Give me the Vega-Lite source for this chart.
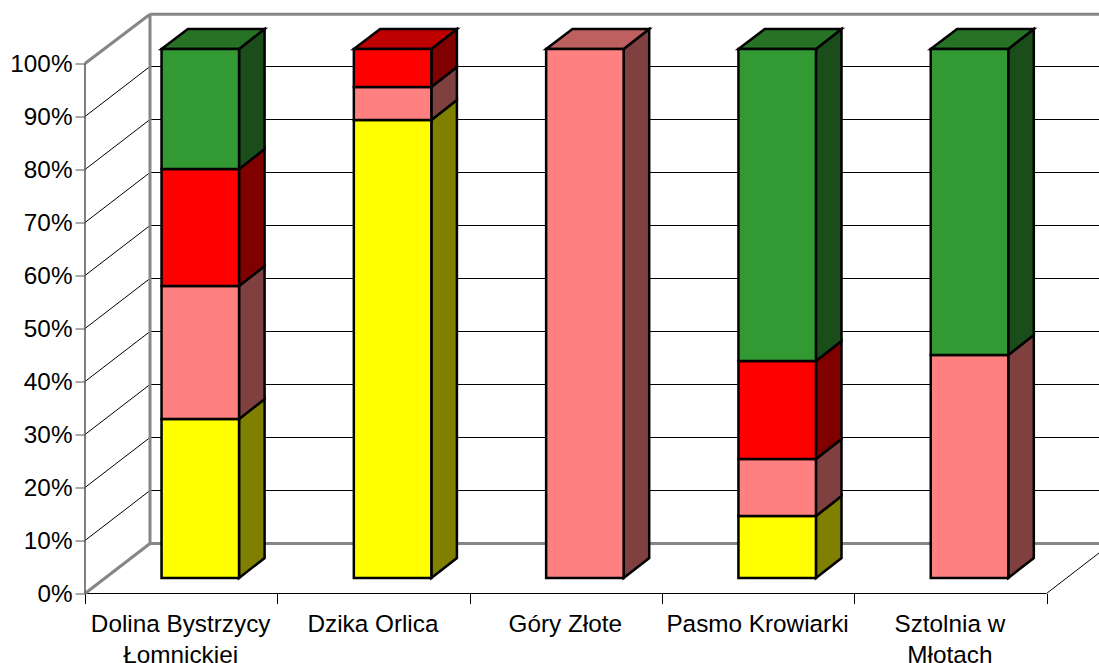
{
"$schema":"https://vega.github.io/schema/vega-lite/v6.json",
"width":1014,"height":580,
"autosize":"none",
"padding":{"left":85,"top":13.5,"right":0,"bottom":69.5},
"background":"white",
"config":{"view":{"stroke":null},"font":"Liberation Sans"},
"datasets":{
"wallGray":[
{"x":0,"y":100,"x2":0.338,"y2":109.3},
{"x":0.338,"y":109.3,"x2":5.273,"y2":109.3},
{"x":0.338,"y":9.43,"x2":0.338,"y2":109.3},
{"x":0.338,"y":9.43,"x2":5.273,"y2":9.43},
{"x":0,"y":0,"x2":0.338,"y2":9.43}],
"wallBlack":[
{"x":0,"y":0,"x2":5,"y2":0},
{"x":5,"y":0,"x2":5.273,"y2":7.64},
{"x":0,"y":10,"x2":0.338,"y2":19.43},{"x":0.338,"y":19.43,"x2":5.273,"y2":19.43},
{"x":0,"y":20,"x2":0.338,"y2":29.43},{"x":0.338,"y":29.43,"x2":5.273,"y2":29.43},
{"x":0,"y":30,"x2":0.338,"y2":39.43},{"x":0.338,"y":39.43,"x2":5.273,"y2":39.43},
{"x":0,"y":40,"x2":0.338,"y2":49.43},{"x":0.338,"y":49.43,"x2":5.273,"y2":49.43},
{"x":0,"y":50,"x2":0.338,"y2":59.43},{"x":0.338,"y":59.43,"x2":5.273,"y2":59.43},
{"x":0,"y":60,"x2":0.338,"y2":69.43},{"x":0.338,"y":69.43,"x2":5.273,"y2":69.43},
{"x":0,"y":70,"x2":0.338,"y2":79.43},{"x":0.338,"y":79.43,"x2":5.273,"y2":79.43},
{"x":0,"y":80,"x2":0.338,"y2":89.43},{"x":0.338,"y":89.43,"x2":5.273,"y2":89.43},
{"x":0,"y":90,"x2":0.338,"y2":99.43},{"x":0.338,"y":99.43,"x2":5.273,"y2":99.43}],
"front":[
{"c":"Dolina","s":"yellow","x":0.398,"x2":0.801,"y":2.92,"y2":32.92},
{"c":"Dolina","s":"pink","x":0.398,"x2":0.801,"y":32.92,"y2":58.02},
{"c":"Dolina","s":"red","x":0.398,"x2":0.801,"y":58.02,"y2":80.09},
{"c":"Dolina","s":"green","x":0.398,"x2":0.801,"y":80.09,"y2":102.74},
{"c":"Dzika","s":"yellow","x":1.398,"x2":1.801,"y":2.92,"y2":89.34},
{"c":"Dzika","s":"pink","x":1.398,"x2":1.801,"y":89.34,"y2":95.57},
{"c":"Dzika","s":"red","x":1.398,"x2":1.801,"y":95.57,"y2":102.74},
{"c":"Gory","s":"pink","x":2.398,"x2":2.801,"y":2.92,"y2":102.74},
{"c":"Pasmo","s":"yellow","x":3.398,"x2":3.801,"y":2.92,"y2":14.62},
{"c":"Pasmo","s":"pink","x":3.398,"x2":3.801,"y":14.62,"y2":25.38},
{"c":"Pasmo","s":"red","x":3.398,"x2":3.801,"y":25.38,"y2":43.87},
{"c":"Pasmo","s":"green","x":3.398,"x2":3.801,"y":43.87,"y2":102.74},
{"c":"Sztolnia","s":"pink","x":4.398,"x2":4.801,"y":2.92,"y2":45.0},
{"c":"Sztolnia","s":"green","x":4.398,"x2":4.801,"y":45.0,"y2":102.74}],
"side":[
{"c":"Dolina","s":"yellow","x":0.801,"y":2.92,"y2":32.92},{"c":"Dolina","s":"yellow","x":0.934,"y":6.69,"y2":36.69},
{"c":"Dolina","s":"pink","x":0.801,"y":32.92,"y2":58.02},{"c":"Dolina","s":"pink","x":0.934,"y":36.69,"y2":61.79},
{"c":"Dolina","s":"red","x":0.801,"y":58.02,"y2":80.09},{"c":"Dolina","s":"red","x":0.934,"y":61.79,"y2":83.86},
{"c":"Dolina","s":"green","x":0.801,"y":80.09,"y2":102.74},{"c":"Dolina","s":"green","x":0.934,"y":83.86,"y2":106.51},
{"c":"Dzika","s":"yellow","x":1.801,"y":2.92,"y2":89.34},{"c":"Dzika","s":"yellow","x":1.934,"y":6.69,"y2":93.11},
{"c":"Dzika","s":"pink","x":1.801,"y":89.34,"y2":95.57},{"c":"Dzika","s":"pink","x":1.934,"y":93.11,"y2":99.34},
{"c":"Dzika","s":"red","x":1.801,"y":95.57,"y2":102.74},{"c":"Dzika","s":"red","x":1.934,"y":99.34,"y2":106.51},
{"c":"Gory","s":"pink","x":2.801,"y":2.92,"y2":102.74},{"c":"Gory","s":"pink","x":2.934,"y":6.69,"y2":106.51},
{"c":"Pasmo","s":"yellow","x":3.801,"y":2.92,"y2":14.62},{"c":"Pasmo","s":"yellow","x":3.934,"y":6.69,"y2":18.39},
{"c":"Pasmo","s":"pink","x":3.801,"y":14.62,"y2":25.38},{"c":"Pasmo","s":"pink","x":3.934,"y":18.39,"y2":29.15},
{"c":"Pasmo","s":"red","x":3.801,"y":25.38,"y2":43.87},{"c":"Pasmo","s":"red","x":3.934,"y":29.15,"y2":47.64},
{"c":"Pasmo","s":"green","x":3.801,"y":43.87,"y2":102.74},{"c":"Pasmo","s":"green","x":3.934,"y":47.64,"y2":106.51},
{"c":"Sztolnia","s":"pink","x":4.801,"y":2.92,"y2":45.0},{"c":"Sztolnia","s":"pink","x":4.934,"y":6.69,"y2":48.77},
{"c":"Sztolnia","s":"green","x":4.801,"y":45.0,"y2":102.74},{"c":"Sztolnia","s":"green","x":4.934,"y":48.77,"y2":106.51}],
"top":[
{"c":"Dolina","s":"green","y":102.74,"x":0.398,"x2":0.801},{"c":"Dolina","s":"green","y":106.51,"x":0.535,"x2":0.934},
{"c":"Dzika","s":"red","y":102.74,"x":1.398,"x2":1.801},{"c":"Dzika","s":"red","y":106.51,"x":1.535,"x2":1.934},
{"c":"Gory","s":"pink","y":102.74,"x":2.398,"x2":2.801},{"c":"Gory","s":"pink","y":106.51,"x":2.535,"x2":2.934},
{"c":"Pasmo","s":"green","y":102.74,"x":3.398,"x2":3.801},{"c":"Pasmo","s":"green","y":106.51,"x":3.535,"x2":3.934},
{"c":"Sztolnia","s":"green","y":102.74,"x":4.398,"x2":4.801},{"c":"Sztolnia","s":"green","y":106.51,"x":4.535,"x2":4.934}]
},
"encoding":{
"x":{"field":"x","type":"quantitative","scale":{"domain":[0,5.273],"nice":false,"zero":false},"axis":null},
"y":{"field":"y","type":"quantitative","scale":{"domain":[0,109.43],"nice":false,"zero":false},"axis":null}
},
"resolve":{"scale":{"color":"independent"},"axis":{"x":"independent","y":"independent"}},
"layer":[
{"data":{"name":"wallBlack"},"mark":{"type":"rule","stroke":"#000000","strokeWidth":1,"clip":false},
 "encoding":{
 "x":{"field":"x","type":"quantitative","scale":{"domain":[0,5.273],"nice":false,"zero":false},
  "axis":{"orient":"bottom","values":[0.5,1.5,2.5,3.5,4.5],"title":null,"domain":false,"ticks":false,"grid":false,"labelFontSize":24.3,"labelFont":"Liberation Sans","labelColor":"#000000","labelOverlap":false,"labelBound":false,"labelFlush":false,"labelPadding":19,"labelLimit":500,"labelOffset":-1,"labelLineHeight":31,"labelAngle":0,
  "labelExpr":"datum.value==0.5?['Dolina Bystrzycy','Łomnickiej']:datum.value==1.5?'Dzika Orlica':datum.value==2.5?'Góry Złote':datum.value==3.5?'Pasmo Krowiarki':['Sztolnia w','Młotach']"}},
 "x2":{"field":"x2"},"y2":{"field":"y2"}}},
{"data":{"name":"wallGray"},"mark":{"type":"rule","stroke":"#868686","strokeWidth":3,"clip":false},
 "encoding":{
 "x":{"field":"x","type":"quantitative","scale":{"domain":[0,5.273],"nice":false,"zero":false},
  "axis":{"orient":"bottom","values":[0,1,2,3,4,5],"title":null,"domain":false,"labels":false,"grid":false,"ticks":true,"tickSize":10,"tickColor":"#000000","tickWidth":1}},
 "y":{"field":"y","type":"quantitative","scale":{"domain":[0,109.43],"nice":false,"zero":false},
  "axis":{"orient":"left","values":[0,10,20,30,40,50,60,70,80,90,100],"title":null,"grid":false,"domain":false,"ticks":true,"tickSize":10,"tickColor":"#555555","tickWidth":1,"labelFontSize":24.3,"labelFont":"Liberation Sans","labelColor":"#000000","labelPadding":3,"labelOffset":1,"labelExpr":"datum.value+'%'"}},
 "x2":{"field":"x2"},"y2":{"field":"y2"}}},
{"data":{"values":[{"x":0,"y":0,"y2":100}]},"mark":{"type":"rule","stroke":"#555555","strokeWidth":1.5},"encoding":{"y2":{"field":"y2"}}},
{"data":{"name":"side"},"mark":{"type":"area","stroke":"#000000","strokeWidth":2.5,"strokeJoin":"miter"},
 "encoding":{"y2":{"field":"y2"},"detail":{"field":"c"},
 "color":{"field":"s","type":"nominal","legend":null,"scale":{"domain":["yellow","pink","red","green"],"range":["#808000","#804040","#800000","#1A4D1A"]}}}},
{"data":{"name":"top"},"mark":{"type":"area","orient":"horizontal","stroke":"#000000","strokeWidth":2.5,"strokeJoin":"miter"},
 "encoding":{"x2":{"field":"x2"},"detail":{"field":"c"},
 "color":{"field":"s","type":"nominal","legend":null,"scale":{"domain":["yellow","pink","red","green"],"range":["#BFBF00","#BF6060","#BF0000","#267326"]}}}},
{"data":{"name":"front"},"mark":{"type":"rect","stroke":"#000000","strokeWidth":2.5,"strokeJoin":"miter"},
 "encoding":{"x2":{"field":"x2"},"y2":{"field":"y2"},
 "color":{"field":"s","type":"nominal","legend":null,"scale":{"domain":["yellow","pink","red","green"],"range":["#FFFF00","#FF8080","#FF0000","#339933"]}}}}
]
}
